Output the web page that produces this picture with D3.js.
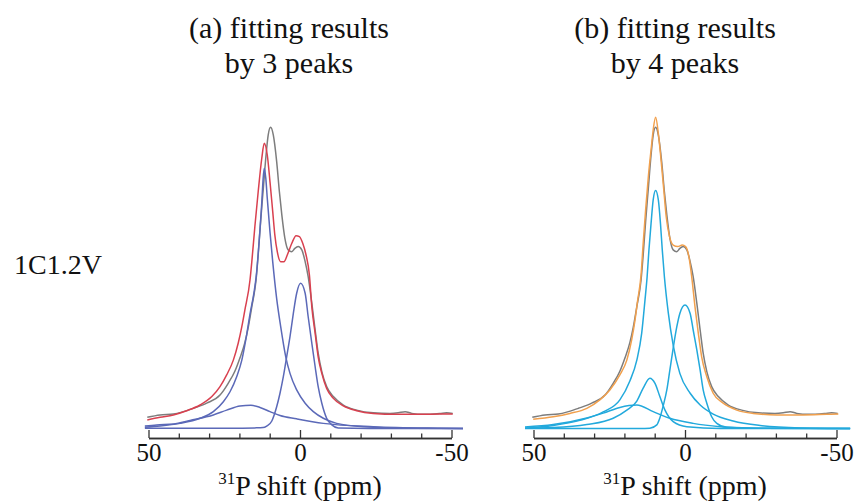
<!DOCTYPE html>
<html>
<head>
<meta charset="utf-8">
<script src="https://cdn.jsdelivr.net/npm/d3@7"></script>
<style>
  body { margin: 0; background: #fff; }
  svg { display: block; }
  svg text { font-family: "Liberation Serif", "DejaVu Serif", "Times New Roman", Times, serif; fill: #111; }
  .curve { fill: none; stroke-width: 1.5; stroke-linejoin: round; }
  .axis path, .axis line { stroke: #333; stroke-width: 1.3; }
  .axis text { font-size: 25px; }
</style>
</head>
<body>
<svg width="858" height="504"></svg>
<script>
'use strict';

// Measured spectrum, [ppm, intensity %] (shared by both panels).
const experimental = [
  [50.4, 3.7], [46.2, 4.5], [41.8, 4.8], [38.5, 5.6], [35.2, 6.7], [30.8, 8.4],
  [26.4, 11.1], [23.7, 15.0], [21.5, 19.0], [19.8, 23.5], [18.2, 28.5], [17.1, 33.5],
  [15.9, 40.5], [14.5, 49.3], [13.8, 57.6], [13.0, 68.7], [12.1, 79.8], [11.2, 90.8],
  [10.5, 97.4], [9.7, 100], [8.8, 97.4], [7.7, 88.6], [6.8, 78.6], [6.0, 70.9],
  [5.0, 63.2], [3.9, 59.3], [2.7, 58.7], [1.7, 59.8], [0.6, 60.4], [-0.6, 59.3],
  [-1.7, 55.4], [-2.7, 50.4], [-3.9, 41.6], [-5.0, 32.7], [-6.0, 25.0], [-7.2, 18.9],
  [-8.8, 13.9], [-11.0, 10.6], [-14.3, 7.8], [-18.7, 6.1], [-24.2, 5.2], [-29.7, 5.0],
  [-32.4, 5.2], [-34.7, 5.6], [-36.9, 5.0], [-40.7, 4.7], [-46.2, 5.0], [-48.4, 5.2],
  [-50.4, 5.0]
];

// (a) 3 peak fit: total and components.
const fitA = [
  [50.4, 2.8], [46.2, 3.7], [41.8, 4.5], [37.4, 5.9], [33.0, 7.8], [29.1, 10.6],
  [26.4, 13.9], [24.2, 17.8], [22.0, 22.7], [20.4, 28.3], [19.2, 33.8], [18.2, 39.3],
  [16.5, 49.3], [15.9, 55.4], [14.9, 67.0], [13.8, 78.6], [12.6, 89.8], [11.8, 94.7],
  [10.8, 90.8], [9.9, 81.9], [9.0, 72.0], [8.3, 64.2], [7.5, 58.7], [6.4, 55.4],
  [5.3, 55.4], [4.2, 57.6], [2.7, 61.5], [1.3, 64.0], [0.2, 63.7], [-0.9, 61.5],
  [-2.0, 57.6], [-3.1, 51.0], [-3.9, 40.4], [-5.0, 31.6], [-6.0, 23.8], [-7.2, 18.3],
  [-8.8, 13.3], [-11.0, 10.0], [-14.3, 7.5], [-18.7, 5.9], [-24.2, 5.0], [-31.9, 4.7],
  [-39.6, 4.7], [-46.2, 4.8], [-50.4, 4.8]
];
const peakA1 = [
  [51.2, 0.4], [46.2, 0.8], [39.6, 1.7], [33.0, 3.4], [28.6, 5.6], [25.3, 8.9],
  [23.1, 12.2], [20.9, 17.2], [19.2, 22.7], [17.8, 30.0], [16.5, 38.0], [15.2, 45.0],
  [14.4, 51.0], [13.5, 62.0], [12.6, 75.3], [12.2, 82.5], [11.8, 86.4], [11.3, 83.2],
  [10.8, 76.4], [9.9, 65.2], [9.0, 55.3], [7.7, 43.1], [6.4, 34.0], [4.7, 23.8],
  [3.3, 18.3], [1.1, 12.8], [-1.7, 8.4], [-4.4, 5.6], [-7.7, 3.4], [-12.1, 1.7],
  [-20.9, 0.6], [-37.4, 0.1], [-53.8, 0]
];
const peakA2 = [
  [51.2, 0.1], [23.1, 0.1], [14.9, 0.2], [12.2, 0.3], [11.0, 0.8], [9.3, 2.5],
  [7.7, 7.2], [6.6, 11.7], [5.5, 17.2], [4.4, 23.8], [3.3, 30.5], [2.2, 38.2],
  [1.1, 44.9], [-0.2, 48.2], [-1.7, 44.9], [-2.7, 37.1], [-3.9, 28.3], [-5.0, 20.5],
  [-6.0, 13.9], [-7.2, 8.4], [-8.8, 3.4], [-10.5, 1.2], [-12.6, 0.2], [-33.0, 0],
  [-53.8, 0]
];
const peakA3 = [
  [51.2, 0.8], [47.3, 1.2], [41.8, 1.5], [36.3, 2.7], [28.6, 4.5], [24.2, 6.1],
  [19.8, 7.5], [16.2, 7.7], [13.2, 7.0], [9.9, 5.6], [6.6, 4.3], [1.1, 3.2],
  [-7.7, 1.7], [-24.2, 0.6], [-46.2, 0.1], [-53.8, 0]
];

// (b) 4 peak fit: total and components.
const fitB = [
  [50.1, 3.1], [43.5, 3.9], [38.0, 5.0], [32.4, 6.7], [28.1, 9.5], [24.8, 12.8],
  [21.5, 17.8], [19.2, 22.7], [17.6, 29.4], [16.5, 36.0], [15.7, 42.0], [14.5, 51.0],
  [13.8, 61.5], [13.0, 72.5], [12.1, 83.6], [11.2, 92.5], [10.5, 99.1], [9.7, 103.3],
  [8.8, 98.0], [7.9, 89.1], [7.0, 79.2], [6.2, 70.3], [5.1, 63.7], [3.9, 60.9],
  [2.4, 60.4], [0.9, 60.9], [-0.2, 60.4], [-1.3, 57.0], [-2.2, 50.5], [-3.3, 40.4],
  [-4.4, 31.6], [-5.5, 23.8], [-7.2, 17.2], [-9.3, 11.7], [-12.6, 8.4], [-17.1, 6.1],
  [-22.5, 5.0], [-30.3, 4.5], [-39.0, 4.5], [-46.8, 4.7], [-50.6, 4.8]
];
const peakB1 = [
  [52.8, 0.1], [43.5, 1.0], [34.7, 2.7], [27.0, 5.5], [21.5, 9.5], [18.2, 15.8],
  [15.9, 22.7], [14.3, 31.6], [13.2, 42.7], [12.5, 50.4], [11.9, 59.3], [11.2, 68.1],
  [10.5, 75.9], [9.7, 79.0], [8.8, 75.9], [8.1, 68.1], [7.5, 59.3], [6.8, 50.4],
  [5.5, 38.3], [3.9, 27.7], [1.7, 18.3], [-1.7, 11.7], [-5.0, 7.8], [-9.3, 4.8],
  [-15.9, 2.5], [-24.8, 1.0], [-38.0, 0.2], [-54.5, 0]
];
const peakB2 = [
  [52.8, 0], [14.9, 0], [11.6, 0.1], [9.3, 1.2], [8.3, 3.5], [7.2, 7.5],
  [6.0, 12.8], [5.0, 19.4], [3.9, 26.7], [2.7, 33.8], [1.7, 38.2], [0.0, 41.0],
  [-1.7, 38.2], [-2.7, 32.7], [-3.9, 26.1], [-5.0, 19.4], [-6.0, 12.8], [-7.2, 8.4],
  [-8.8, 3.9], [-10.5, 1.7], [-13.8, 0.4], [-24.8, 0.1], [-54.5, 0]
];
const peakB3 = [
  [52.8, 0.1], [43.5, 0.3], [32.4, 1.3], [23.7, 3.4], [19.2, 6.1], [15.9, 9.1],
  [13.8, 13.4], [11.6, 16.7], [9.9, 15.0], [8.3, 10.6], [6.6, 6.1], [3.9, 2.3],
  [-0.6, 0.6], [-11.6, 0], [-54.5, 0]
];
const peakB4 = [
  [52.8, 0.5], [43.5, 1.3], [32.4, 3.5], [27.0, 5.1], [21.5, 7.0], [15.9, 7.8],
  [10.5, 5.6], [5.0, 3.4], [-2.7, 1.7], [-11.6, 0.6], [-22.5, 0.1], [-54.5, 0]
];

const majorTicks = [50, 0, -50];
const minorTicks = [40, 30, 20, 10, -10, -20, -30, -40];
const sampleLabel = '1C1.2V';


class Chart {
  axisY = 438;
  zeroY = 428.5;
  topY = 127.3;

  constructor() {
    this.svg = d3.select('svg');
    this.y = d3.scaleLinear().domain([0, 100]).range([this.zeroY, this.topY]);

    this.drawPanel({
      range: [148.5, 451.5],
      title: ['(a) fitting results', 'by 3 peaks'],
      titleX: 289,
      fit: fitA, fitColor: '#d9404f',
      peaks: [peakA3, peakA2, peakA1], peakColor: '#5b69b8',
    });

    this.drawPanel({
      range: [533.5, 836.5],
      title: ['(b) fitting results', 'by 4 peaks'],
      titleX: 675,
      fit: fitB, fitColor: '#f1a04d',
      peaks: [peakB4, peakB3, peakB2, peakB1], peakColor: '#22a9dc',
    });

    this.svg.append('text')
      .attr('x', 14)
      .attr('y', 274)
      .style('font-size', '28px')
      .text(sampleLabel);
  }


  /*
   * One spectrum panel: axis, measured curve, fit and components.
   */
  drawPanel(opt) {
    const self = this;
    const x = d3.scaleLinear().domain([50, -50]).range(opt.range);
    const g = self.svg.append('g');

    const line = d3.line()
      .x(d => x(d[0]))
      .y(d => self.y(d[1]))
      .curve(d3.curveMonotoneX);

    // Minor ticks
    g.append('g')
      .attr('class', 'axis')
      .attr('transform', `translate(0,${self.axisY})`)
      .call(d3.axisBottom(x).tickValues(minorTicks).tickSize(-4.5).tickSizeOuter(0).tickFormat(''));

    // Major ticks + labels
    g.append('g')
      .attr('class', 'axis')
      .attr('transform', `translate(0,${self.axisY})`)
      .call(d3.axisBottom(x).tickValues(majorTicks).tickSize(-8).tickSizeOuter(0)
        .tickPadding(5).tickFormat(d => String(d)));

    g.append('path')
      .datum(experimental)
      .attr('class', 'curve')
      .attr('stroke', '#7d7d7d')
      .attr('d', line);

    g.append('path')
      .datum(opt.fit)
      .attr('class', 'curve')
      .attr('stroke', opt.fitColor)
      .attr('d', line);

    g.selectAll('path.peak')
      .data(opt.peaks)
      .enter()
      .append('path')
      .attr('class', 'curve peak')
      .attr('stroke', opt.peakColor)
      .attr('d', line);

    // Titles
    g.selectAll('text.title')
      .data(opt.title)
      .enter()
      .append('text')
      .attr('class', 'title')
      .attr('x', opt.titleX)
      .attr('y', (d, i) => 38 + i * 35)
      .attr('text-anchor', 'middle')
      .style('font-size', '30px')
      .text(d => d);

    // x label with superscript
    const xl = g.append('text')
      .attr('x', (opt.range[0] + opt.range[1]) / 2)
      .attr('y', 495)
      .attr('text-anchor', 'middle')
      .style('font-size', '28px');
    xl.append('tspan').attr('dy', -11).style('font-size', '17px').text('31');
    xl.append('tspan').attr('dy', 11).text('P shift (ppm)');
  }

}

const chart = new Chart();
</script>
</body>
</html>
